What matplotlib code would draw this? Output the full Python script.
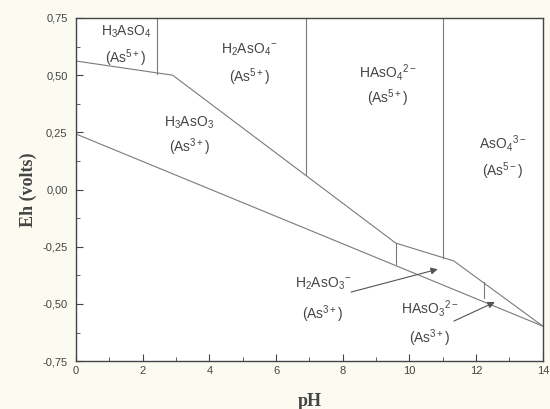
import numpy as np
import matplotlib.pyplot as plt
from matplotlib.ticker import MultipleLocator, FuncFormatter

# boundary lines (pH, Eh)
upper_ph = [0, 2.9, 9.59, 11.33, 14]
upper_eh = [0.562, 0.50, -0.234, -0.312, -0.597]

lower_ph = [0, 14]
lower_eh = [0.243, -0.597]

# vertical boundaries: pH, Eh bottom, Eh top
vert_ph = [2.43, 6.89, 11.0, 9.59, 12.23]
vert_bot = [0.505, 0.062, -0.297, -0.325, -0.474]
vert_top = [0.75, 0.75, 0.75, -0.234, -0.405]

# species labels
lab_text = [r'H$_3$AsO$_4$', r'H$_2$AsO$_4$$^{-}$', r'HAsO$_4$$^{2-}$', r'AsO$_4$$^{3-}$',
            r'H$_3$AsO$_3$', r'H$_2$AsO$_3$$^{-}$', r'HAsO$_3$$^{2-}$']
lab_ox = [r'(As$^{5+}$)', r'(As$^{5+}$)', r'(As$^{5+}$)', r'(As$^{5-}$)',
          r'(As$^{3+}$)', r'(As$^{3+}$)', r'(As$^{3+}$)']
lab_x = [1.5, 5.2, 9.35, 12.8, 3.4, 7.4, 10.6]
lab_y1 = [0.69, 0.61, 0.51, 0.20, 0.29, -0.41, -0.52]
lab_y2 = [0.575, 0.49, 0.40, 0.08, 0.185, -0.545, -0.65]

# arrows (tail -> head)
arr_from = [(8.25, -0.448), (11.33, -0.575)]
arr_to = [(10.85, -0.348), (12.56, -0.492)]

plt.rcParams['font.family'] = ['Liberation Sans', 'DejaVu Sans']
plt.rcParams['mathtext.fontset'] = 'custom'
plt.rcParams['mathtext.rm'] = 'Liberation Sans'
plt.rcParams['mathtext.it'] = 'Liberation Sans'

fig = plt.figure(figsize=(5.5, 4.09), dpi=100, facecolor='#fcfbf1')
ax = fig.add_axes([0.138, 0.117, 0.849, 0.839])
ax.set_facecolor('white')

lc = '#7a7a7a'
ax.plot(upper_ph, upper_eh, color=lc, lw=0.8)
ax.plot(lower_ph, lower_eh, color=lc, lw=0.8)
for x, b, t in zip(vert_ph, vert_bot, vert_top):
    ax.plot([x, x], [b, t], color=lc, lw=0.8)

for t, o, x, y1, y2 in zip(lab_text, lab_ox, lab_x, lab_y1, lab_y2):
    ax.text(x, y1, t, ha='center', va='center', fontsize=10, color='#444444')
    ax.text(x, y2, o, ha='center', va='center', fontsize=10, color='#444444')

for a, b in zip(arr_from, arr_to):
    ax.annotate('', xy=b, xytext=a,
                arrowprops=dict(arrowstyle='-|>', color='#555555', lw=0.8,
                                mutation_scale=10, shrinkA=0, shrinkB=0))

ax.set_xlim(0, 14)
ax.set_ylim(-0.75, 0.75)
ax.xaxis.set_major_locator(MultipleLocator(2))
ax.xaxis.set_minor_locator(MultipleLocator(1))
ax.yaxis.set_major_locator(MultipleLocator(0.25))
ax.yaxis.set_minor_locator(MultipleLocator(0.125))
ax.yaxis.set_major_formatter(FuncFormatter(lambda v, p: ('%.2f' % v).replace('.', ',')))
ax.tick_params(which='both', direction='in', colors='#444444', labelsize=8)
ax.tick_params(which='major', length=5)
ax.tick_params(which='minor', length=3)
ax.tick_params(axis='y', pad=6)
for s in ax.spines.values():
    s.set_color('#444444')
    s.set_linewidth(1.0)

ax.set_xlabel('pH', family='Liberation Serif', fontweight='bold', fontsize=13,
              color='#444444', labelpad=12)
ax.set_ylabel('Eh (volts)', family='Liberation Serif', fontweight='bold', fontsize=13,
              color='#444444', labelpad=4)

plt.savefig('out.png', dpi=100, facecolor=fig.get_facecolor())
